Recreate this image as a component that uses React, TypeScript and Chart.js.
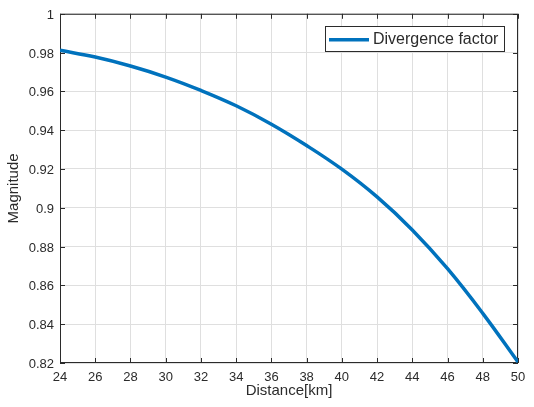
import { useEffect, useRef } from 'react';
import { Chart, registerables } from 'chart.js';

Chart.register(...registerables);

// Divergence factor vs. distance
const distanceKm = [24, 26, 28, 30, 32, 34, 36, 38, 40, 42, 44, 46, 48, 50];
const divergenceFactor = [
  0.9812, 0.9777, 0.9731, 0.9674, 0.9605, 0.9526, 0.9431, 0.9321, 0.9199, 0.9056,
  0.8886, 0.8686, 0.8456, 0.8205,
];

const xTickValues = [24, 26, 28, 30, 32, 34, 36, 38, 40, 42, 44, 46, 48, 50];
const yTickValues = [0.82, 0.84, 0.86, 0.88, 0.9, 0.92, 0.94, 0.96, 0.98, 1];
const yTickLabels = ['0.82', '0.84', '0.86', '0.88', '0.9', '0.92', '0.94', '0.96', '0.98', '1'];

const seriesLabel = 'Divergence factor';
const xTitle = 'Distance[km]';
const yTitle = 'Magnitude';

const FONT = "'Liberation Sans', Arial, Helvetica, sans-serif";
const TEXT = '#2b2b2b';
const LINE = '#0072BD';
const GRID = '#dfdfdf';

// Box around the axes with inward tick marks on all four sides
const axesFrame = {
  id: 'axesFrame',
  beforeDatasetsDraw(chart: any) {
    const { ctx, chartArea: a, scales } = chart;
    const tick = 5;
    ctx.save();
    ctx.strokeStyle = TEXT;
    ctx.lineWidth = 1;
    ctx.beginPath();
    xTickValues.forEach((v) => {
      const px = Math.round(scales.x.getPixelForValue(v)) + 0.5;
      ctx.moveTo(px, a.bottom);
      ctx.lineTo(px, a.bottom - tick);
      ctx.moveTo(px, a.top);
      ctx.lineTo(px, a.top + tick);
    });
    yTickValues.forEach((v) => {
      const py = Math.round(scales.y.getPixelForValue(v)) + 0.5;
      ctx.moveTo(a.left, py);
      ctx.lineTo(a.left + tick, py);
      ctx.moveTo(a.right, py);
      ctx.lineTo(a.right - tick, py);
    });
    ctx.stroke();
    ctx.strokeRect(a.left + 0.5, a.top + 0.5, a.right - a.left - 1, a.bottom - a.top - 1);
    ctx.restore();
  },
};

// Legend box in the upper right of the axes
const insideLegend = {
  id: 'insideLegend',
  afterDatasetsDraw(chart: any) {
    const { ctx, chartArea: a } = chart;
    const ds = chart.data.datasets[0];
    const right = a.right - 14;
    const left = right - 179;
    const top = a.top + 12.5;
    const h = 25;
    const midY = top + h / 2 + 1;
    ctx.save();
    ctx.fillStyle = '#ffffff';
    ctx.fillRect(left, top, right - left, h);
    ctx.strokeStyle = TEXT;
    ctx.lineWidth = 1;
    ctx.strokeRect(Math.round(left) + 0.5, Math.round(top) + 0.5, Math.round(right - left), Math.round(h));
    ctx.strokeStyle = ds.borderColor;
    ctx.lineWidth = ds.borderWidth;
    ctx.beginPath();
    ctx.moveTo(left + 4, midY);
    ctx.lineTo(left + 44, midY);
    ctx.stroke();
    ctx.fillStyle = TEXT;
    ctx.font = `16px ${FONT}`;
    ctx.textBaseline = 'middle';
    ctx.textAlign = 'left';
    ctx.fillText(ds.label, left + 48, midY);
    ctx.restore();
  },
};

export default function App() {
  const canvasRef = useRef<HTMLCanvasElement | null>(null);

  useEffect(() => {
    const canvas = canvasRef.current;
    if (!canvas) return;
    const chart = new Chart(canvas, {
      type: 'line',
      data: {
        datasets: [
          {
            label: seriesLabel,
            data: distanceKm.map((x, i) => ({ x, y: divergenceFactor[i] })),
            borderColor: LINE,
            borderWidth: 3.5,
            pointRadius: 0,
            fill: false,
            tension: 0.4,
          },
        ],
      },
      options: {
        animation: false,
        responsive: true,
        maintainAspectRatio: false,
        layout: { padding: { left: 0, top: 13, right: 16, bottom: 0 } },
        plugins: {
          legend: { display: false },
          tooltip: { enabled: false },
        },
        scales: {
          x: {
            type: 'linear',
            min: 24,
            max: 50,
            afterBuildTicks: (s: any) => {
              s.ticks = xTickValues.map((value) => ({ value }));
            },
            afterFit: (s: any) => {
              s.height = 44;
            },
            ticks: {
              padding: 7,
              color: TEXT,
              font: { family: FONT, size: 13 },
              maxRotation: 0,
              autoSkip: false,
              callback: (v: any) => String(v),
            },
            grid: { color: GRID, lineWidth: 1, drawTicks: false },
            border: { display: false },
            title: {
              display: true,
              text: xTitle,
              color: TEXT,
              font: { family: FONT, size: 15 },
              padding: { top: 0, bottom: 7 },
            },
          },
          y: {
            type: 'linear',
            min: 0.82,
            max: 1,
            afterBuildTicks: (s: any) => {
              s.ticks = yTickValues.map((value) => ({ value }));
            },
            afterFit: (s: any) => {
              s.width = 60;
            },
            ticks: {
              padding: 6,
              labelOffset: 1.5,
              color: TEXT,
              font: { family: FONT, size: 13 },
              autoSkip: false,
              callback: (_v: any, i: number) => yTickLabels[i],
            },
            grid: { color: GRID, lineWidth: 1, drawTicks: false },
            border: { display: false },
            title: {
              display: true,
              text: yTitle,
              color: TEXT,
              font: { family: FONT, size: 15 },
              padding: { top: 5, bottom: 0 },
            },
          },
        },
      },
      plugins: [axesFrame, insideLegend],
    } as any);
    return () => chart.destroy();
  }, []);

  return (
    <div style={{ position: 'fixed', left: 0, top: 0, width: 534, height: 407, background: '#fff' }}>
      <canvas ref={canvasRef} />
    </div>
  );
}
